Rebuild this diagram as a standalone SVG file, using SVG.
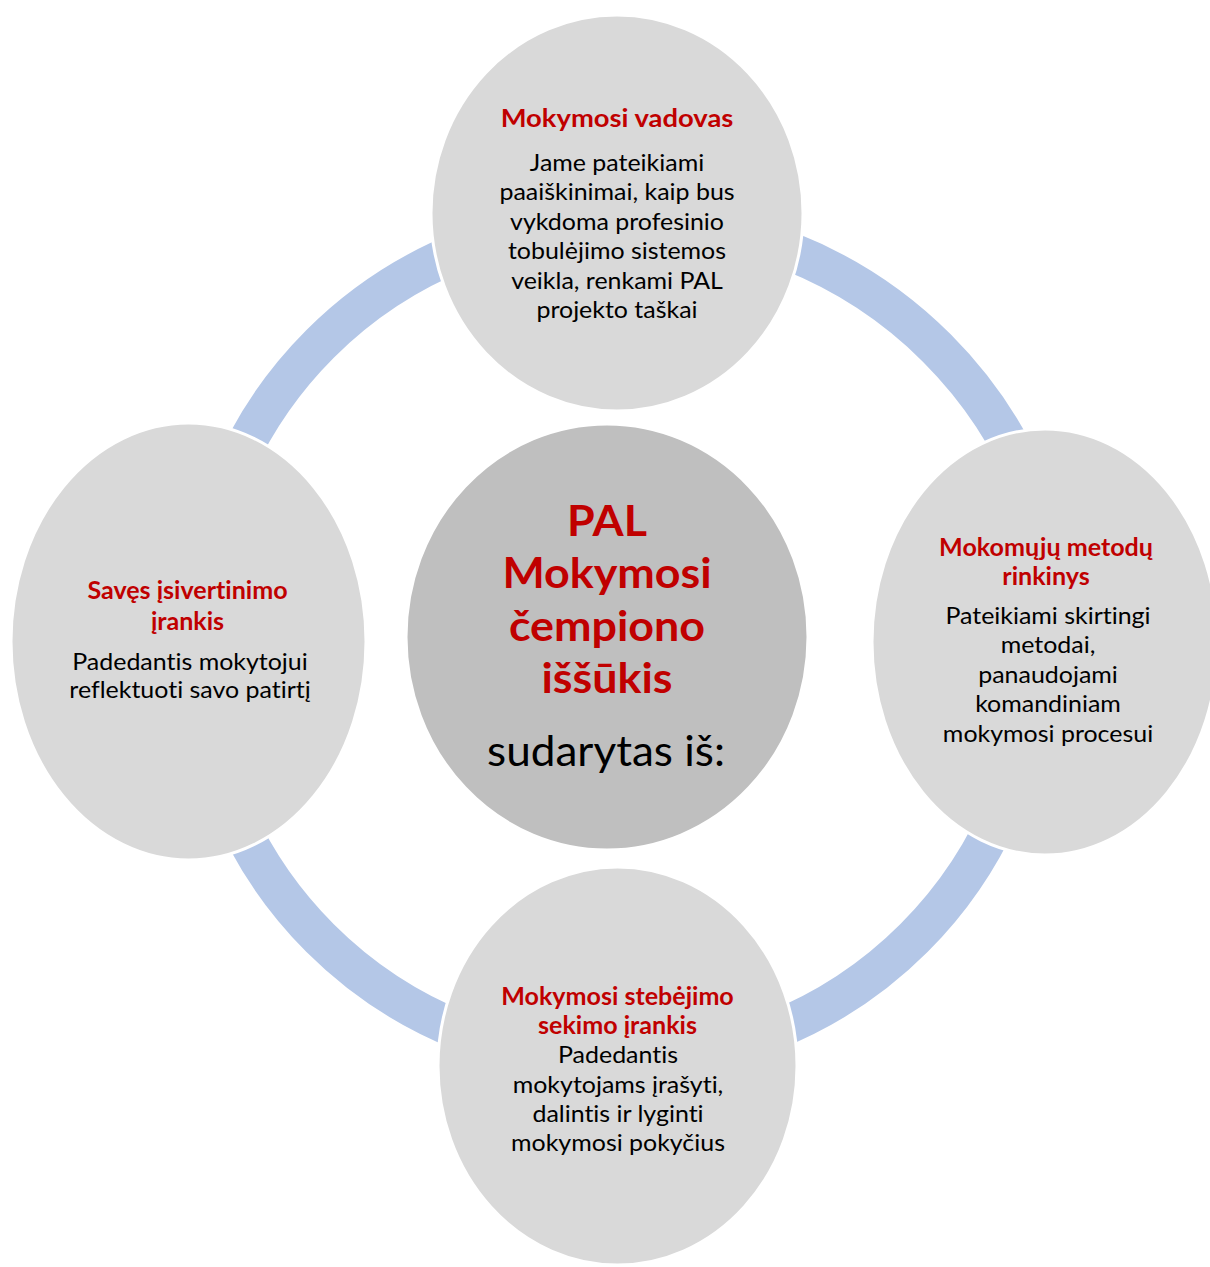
<svg xmlns="http://www.w3.org/2000/svg" width="1210" height="1267" viewBox="0 0 1210 1267">
<style>
.ring{fill:none;stroke:#B4C7E7;stroke-width:39;stroke-linecap:butt}
.sat{fill:#D9D9D9;stroke:#FFFFFF;stroke-width:3}
.hub{fill:#BFBFBF;stroke:#FFFFFF;stroke-width:3}
text{font-family:Lato,"Liberation Sans",sans-serif;text-anchor:middle;font-variant-ligatures:none;font-feature-settings:"liga" 0,"clig" 0}
.h{font-weight:bold;fill:#C00000;font-size:24px}
.ht{font-weight:bold;fill:#C00000;font-size:25px}
.b{fill:#000000;font-size:24px}
.ch{font-weight:bold;fill:#C00000;font-size:42px}
.cb{fill:#000000;font-size:42px}
</style>
<rect x="0" y="0" width="1210" height="1267" fill="#FFFFFF"/>
<g id="connectors">
<path class="ring" d="M197,641 A420,420 0 0 1 617,221"/>
<path class="ring" d="M630,221 A434,434 0 0 1 1064,655"/>
<path class="ring" d="M1037,641 A420,420 0 0 1 617,1061"/>
<path class="ring" d="M617,1061 A420,420 0 0 1 197,641"/>
</g>
<g id="node-top">
<ellipse class="sat" cx="617" cy="213" rx="186" ry="198"/>
<g transform="translate(617 0) scale(1.095 1)">
<text class="ht" x="0" y="127">Mokymosi vadovas</text>
</g>
<g transform="translate(617 0) scale(1.04 1)">
<text class="b" x="0" y="171">Jame pateikiami</text>
<text class="b" x="0" y="200.4">paaiškinimai, kaip bus</text>
<text class="b" x="0" y="229.8">vykdoma profesinio</text>
<text class="b" x="0" y="259.2">tobulėjimo sistemos</text>
<text class="b" x="0" y="288.6">veikla, renkami PAL</text>
<text class="b" x="0" y="318">projekto taškai</text>
</g>
</g>
<g id="node-right">
<ellipse class="sat" cx="1045" cy="642" rx="173" ry="213"/>
<g transform="translate(1046 0) scale(1.045 1)">
<text class="h" x="0" y="556">Mokomųjų metodų</text>
<text class="h" x="0" y="585">rinkinys</text>
</g>
<g transform="translate(1048 0) scale(1.04 1)">
<text class="b" x="0" y="624">Pateikiami skirtingi</text>
<text class="b" x="0" y="653.5">metodai,</text>
<text class="b" x="0" y="683">panaudojami</text>
<text class="b" x="0" y="712.5">komandiniam</text>
<text class="b" x="0" y="742">mokymosi procesui</text>
</g>
</g>
<g id="node-bottom">
<ellipse class="sat" cx="617.5" cy="1066" rx="179.5" ry="199"/>
<g transform="translate(617.5 0) scale(1.045 1)">
<text class="h" x="0" y="1005">Mokymosi stebėjimo</text>
<text class="h" x="0" y="1034">sekimo įrankis</text>
</g>
<g transform="translate(618 0) scale(1.04 1)">
<text class="b" x="0" y="1063.3">Padedantis</text>
<text class="b" x="0" y="1092.7">mokytojams įrašyti,</text>
<text class="b" x="0" y="1122.1">dalintis ir lyginti</text>
<text class="b" x="0" y="1151.5">mokymosi pokyčius</text>
</g>
</g>
<g id="node-left">
<ellipse class="sat" cx="188.5" cy="641.5" rx="177.5" ry="218.5"/>
<g transform="translate(187.5 0) scale(1.045 1)">
<text class="h" x="0" y="599.5">Savęs įsivertinimo</text>
<text class="h" x="0" y="630">įrankis</text>
</g>
<g transform="translate(190 0) scale(1.04 1)">
<text class="b" x="0" y="670.5">Padedantis mokytojui</text>
<text class="b" x="0" y="698.5">reflektuoti savo patirtį</text>
</g>
</g>
<g id="node-center">
<ellipse class="hub" cx="607" cy="637" rx="201" ry="213"/>
<g transform="translate(607 0) scale(1.067 1)">
<text class="ch" x="0" y="536">PAL</text>
<text class="ch" x="0" y="588.5">Mokymosi</text>
<text class="ch" x="0" y="641">čempiono</text>
<text class="ch" x="0" y="693.5">iššūkis</text>
</g>
<g transform="translate(606 0) scale(1.05 1)">
<text class="cb" x="0" y="766.5">sudarytas iš:</text>
</g>
</g>
</svg>
